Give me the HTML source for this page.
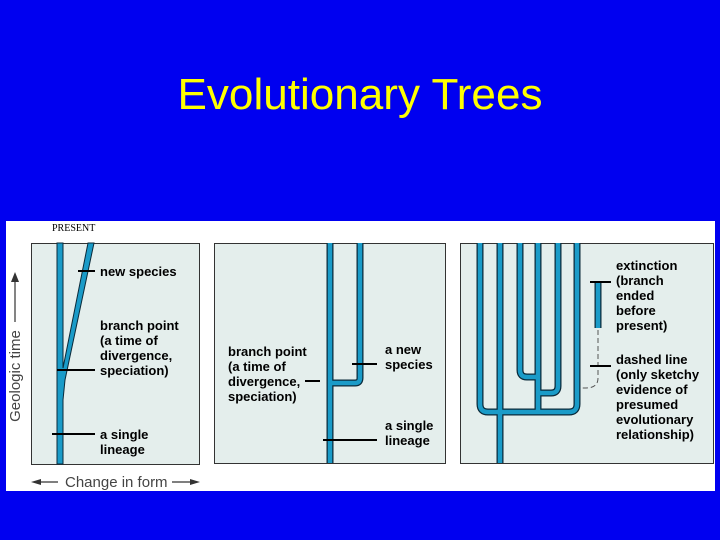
<!DOCTYPE html>
<html><head><style>
html,body{margin:0;padding:0;background:#0000f0;}
svg{display:block;}
.l{font-family:"Liberation Sans",Arial,sans-serif;font-weight:bold;font-size:13px;fill:#000;}
</style></head><body>
<svg width="720" height="540" viewBox="0 0 720 540" xmlns="http://www.w3.org/2000/svg">
<rect width="720" height="540" fill="#0000f0"/>
<text x="360" y="109" text-anchor="middle" font-family="Liberation Sans,Arial,sans-serif" font-size="44" fill="#ffff00" textLength="365" lengthAdjust="spacingAndGlyphs">Evolutionary Trees</text>
<rect x="6" y="221" width="709" height="270" fill="#fff"/>
<text x="52" y="231" font-family="Liberation Serif,serif" font-size="10" fill="#000">PRESENT</text>
<g fill="#e4eeec" stroke="#333" stroke-width="1">
<rect x="31.5" y="243.5" width="168" height="221"/>
<rect x="214.5" y="243.5" width="231" height="220"/>
<rect x="460.5" y="243.5" width="253" height="220"/>
</g>
<!-- panel 1 -->
<path d="M57,243 L57,464 L63,464 L63,400 L65,380 L94,243 L88,243 L63,368 L63,243 Z" fill="#1a9bc8" stroke="#0a2a3a" stroke-width="1"/>
<g stroke="#000" stroke-width="2">
<line x1="78" y1="271" x2="95" y2="271"/>
<line x1="57" y1="370" x2="95" y2="370"/>
<line x1="52" y1="434" x2="95" y2="434"/>
</g>
<text class="l"><tspan x="100" y="276">new species</tspan></text>
<text class="l"><tspan x="100" y="330">branch point</tspan><tspan x="100" y="345">(a time of</tspan><tspan x="100" y="360">divergence,</tspan><tspan x="100" y="375">speciation)</tspan></text>
<text class="l"><tspan x="100" y="439">a single</tspan><tspan x="100" y="454">lineage</tspan></text>
<text transform="translate(20,376) rotate(-90)" font-family="Liberation Sans,Arial,sans-serif" font-size="15" fill="#444" text-anchor="middle">Geologic time</text>
<line x1="15" y1="322" x2="15" y2="280" stroke="#333" stroke-width="1.2"/>
<path d="M15,272 L11,282 L19,282 Z" fill="#333"/>
<text x="65" y="487" font-family="Liberation Sans,Arial,sans-serif" font-size="15" fill="#444">Change in form</text>
<line x1="38" y1="482" x2="58" y2="482" stroke="#333" stroke-width="1.2"/><path d="M31,482 L41,479 L41,485 Z" fill="#333"/>
<line x1="172" y1="482" x2="193" y2="482" stroke="#333" stroke-width="1.2"/><path d="M200,482 L190,479 L190,485 Z" fill="#333"/>
<g fill="none" stroke-linejoin="round" stroke-linecap="butt">
<g stroke="#0a2a3a" stroke-width="7">
<path d="M330,243 V463"/>
<path d="M360,243 V378 Q360,383 355,383 H330"/>
<path d="M500,243 V463"/>
<path d="M480,243 V404 Q480,412 488,412 H569 Q577,412 577,404 V243"/>
<path d="M520,243 V370 Q520,377 527,377 H538"/>
<path d="M538,243 V412"/>
<path d="M558,243 V386 Q558,393 551,393 H538"/>
<path d="M598,282 V328"/>
</g>
<g stroke="#1a9bc8" stroke-width="4.5">
<path d="M330,243 V463"/>
<path d="M360,243 V378 Q360,383 355,383 H330"/>
<path d="M500,243 V463"/>
<path d="M480,243 V404 Q480,412 488,412 H569 Q577,412 577,404 V243"/>
<path d="M520,243 V370 Q520,377 527,377 H538"/>
<path d="M538,243 V412"/>
<path d="M558,243 V386 Q558,393 551,393 H538"/>
<path d="M598,282 V328"/>
</g>
</g>
<path d="M598,330 V378 Q598,388 586,388 H581" fill="none" stroke="#555" stroke-width="1" stroke-dasharray="5,3"/>
<g stroke="#000" stroke-width="2">
<line x1="305" y1="381" x2="320" y2="381"/>
<line x1="352" y1="364" x2="377" y2="364"/>
<line x1="323" y1="440" x2="377" y2="440"/>
<line x1="590" y1="282" x2="611" y2="282"/>
<line x1="590" y1="366" x2="611" y2="366"/>
</g>
<text class="l"><tspan x="228" y="356">branch point</tspan><tspan x="228" y="371">(a time of</tspan><tspan x="228" y="386">divergence,</tspan><tspan x="228" y="401">speciation)</tspan></text>
<text class="l"><tspan x="385" y="354">a new</tspan><tspan x="385" y="369">species</tspan></text>
<text class="l"><tspan x="385" y="430">a single</tspan><tspan x="385" y="445">lineage</tspan></text>
<text class="l"><tspan x="616" y="270">extinction</tspan><tspan x="616" y="285">(branch</tspan><tspan x="616" y="300">ended</tspan><tspan x="616" y="315">before</tspan><tspan x="616" y="330">present)</tspan></text>
<text class="l"><tspan x="616" y="364">dashed line</tspan><tspan x="616" y="379">(only sketchy</tspan><tspan x="616" y="394">evidence of</tspan><tspan x="616" y="409">presumed</tspan><tspan x="616" y="424">evolutionary</tspan><tspan x="616" y="439">relationship)</tspan></text>
</svg>
</body></html>
